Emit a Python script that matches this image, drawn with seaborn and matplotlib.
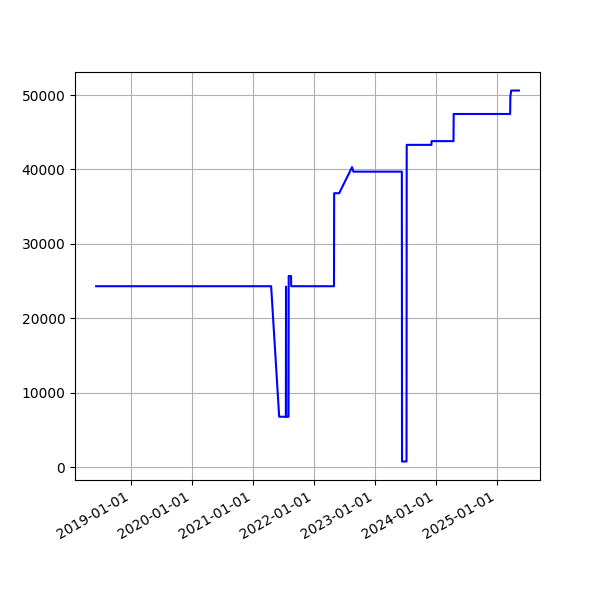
import matplotlib
matplotlib.use("Agg")
import matplotlib.pyplot as plt
import matplotlib.dates as mdates
import pandas as pd
import seaborn as sns

dates = [
    "2018-06-08", "2021-04-20", "2021-06-07", "2021-07-17", "2021-07-18",
    "2021-07-19", "2021-08-02", "2021-08-03", "2021-08-17", "2021-08-18",
    "2022-05-01", "2022-05-02", "2022-06-01", "2022-08-17", "2022-08-25",
    "2023-06-11", "2023-06-12", "2023-07-09", "2023-07-10", "2023-12-05",
    "2023-12-06", "2024-04-15", "2024-04-16", "2025-03-20", "2025-03-21",
    "2025-03-26", "2025-05-11",
]
values = [
    24300, 24300, 6760, 6760, 24250,
    6760, 6760, 25670, 25670, 24300,
    24300, 36800, 36800, 40300, 39700,
    39700, 750, 750, 43300, 43300,
    43800, 43800, 47450, 47450, 49700,
    50600, 50600,
]

df = pd.DataFrame({"date": pd.to_datetime(dates), "value": values})

fig, ax = plt.subplots(figsize=(6, 6), dpi=100)
sns.lineplot(data=df, x="date", y="value", estimator=None, sort=False,
             color="blue", linewidth=1.5, ax=ax)
ax.set_xlabel("")
ax.set_ylabel("")
ax.xaxis.set_major_locator(mdates.YearLocator())
ax.xaxis.set_major_formatter(mdates.DateFormatter("%Y-%m-%d"))
ax.grid(True)
fig.autofmt_xdate()
fig.savefig("out.png", dpi=100)
